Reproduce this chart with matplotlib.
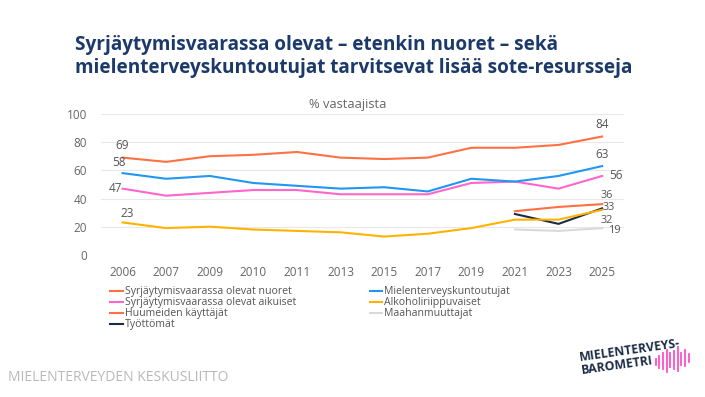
import matplotlib.pyplot as plt
import numpy as np

years = ["2006", "2007", "2009", "2010", "2011", "2013", "2015", "2017", "2019", "2021", "2023", "2025"]

nuoret = [69, 66, 70, 71, 73, 69, 68, 69, 76, 76, 78, 84]
kuntoutujat = [58, 54, 56, 51, 49, 47, 48, 45, 54, 52, 56, 63]
aikuiset = [47, 42, 44, 46, 46, 43, 43, 43, 51, 52, 47, 56]
alkoholi = [23, 19, 20, 18, 17, 16, 13, 15, 19, 25, 25, 32]
# series that start in 2021
huumeet = [np.nan] * 9 + [31, 34, 36]
tyottomat = [np.nan] * 9 + [29, 22, 33]
maahanmuuttajat = [np.nan] * 9 + [18, 17, 19]

plt.rcParams['font.family'] = ['Open Sans', 'DejaVu Sans']

fig = plt.figure(figsize=(7.05, 3.97), dpi=100)
ax = fig.add_axes([0.143, 0.358, 0.742, 0.355])
x = np.arange(len(years))

series = [
    ("Syrjäytymisvaarassa olevat nuoret", nuoret, "#ff7043"),
    ("Syrjäytymisvaarassa olevat aikuiset", aikuiset, "#ff66cc"),
    ("Huumeiden käyttäjät", huumeet, "#ff7043"),
    ("Työttömät", tyottomat, "#1c2b44"),
    ("Mielenterveyskuntoutujat", kuntoutujat, "#2196f3"),
    ("Alkoholiriippuvaiset", alkoholi, "#ffb300"),
    ("Maahanmuuttajat", maahanmuuttajat, "#d9d9d9"),
]
for name, vals, col in series:
    ax.plot(x, vals, color=col, lw=1.5, label=name)

lab = dict(fontsize=8.5, color="#555555", textcoords="offset points")
small = dict(fontsize=7.8, color="#555555", textcoords="offset points")
# first values
ax.annotate(f"{nuoret[0]}", (0, nuoret[0]), xytext=(0, 4), ha="center", va="bottom", **lab)
ax.annotate(f"{kuntoutujat[0]}", (0, kuntoutujat[0]), xytext=(-3, 3), ha="center", va="bottom", **lab)
ax.annotate(f"{aikuiset[0]}", (0, aikuiset[0]), xytext=(0, 0), ha="right", va="center", **lab)
ax.annotate(f"{alkoholi[0]}", (0, alkoholi[0]), xytext=(3, 2), ha="center", va="bottom", **lab)
# last values
ax.annotate(f"{nuoret[-1]}", (11, nuoret[-1]), xytext=(0, 4), ha="center", va="bottom", **lab)
ax.annotate(f"{kuntoutujat[-1]}", (11, kuntoutujat[-1]), xytext=(0, 4), ha="center", va="bottom", **lab)
ax.annotate(f"{aikuiset[-1]}", (11, aikuiset[-1]), xytext=(5, 0), ha="left", va="center", **lab)
ax.annotate(f"{huumeet[-1]}", (11, huumeet[-1]), xytext=(-1, 6.5), ha="left", va="center", **small)
ax.annotate(f"{tyottomat[-1]}", (11, tyottomat[-1]), xytext=(0, 0.5), ha="left", va="center", **small)
ax.annotate(f"{alkoholi[-1]}", (11, alkoholi[-1]), xytext=(-1, -7.5), ha="left", va="center", **small)
ax.annotate(f"{maahanmuuttajat[-1]}", (11, maahanmuuttajat[-1]), xytext=(5, -1.5), ha="left", va="center", **small)

ax.set_xlim(-0.5, 11.5)
ax.set_ylim(0, 100)
ax.set_yticks([0, 20, 40, 60, 80, 100])
ax.set_xticks(x, years)
ax.tick_params(length=0, labelsize=8.5, labelcolor="#666666")
ax.tick_params(axis="y", pad=10)
ax.tick_params(axis="x", pad=8)
ax.grid(axis="y", color="#e8e8e8", lw=0.8)
ax.set_axisbelow(True)
for s in ax.spines.values():
    s.set_visible(False)
ax.text(0.472, 1.07, "% vastaajista", transform=ax.transAxes, fontsize=9.3, color="#666666",
        ha="center", va="center")

leg = ax.legend(loc="upper left", bbox_to_anchor=(0.008, -0.185), ncol=2, frameon=False,
                fontsize=7.6, handlelength=1.2, handletextpad=0.15, labelspacing=0.0,
                columnspacing=7.0, borderpad=0)
for t in leg.get_texts():
    t.set_color("#555555")

fig.text(0.106, 0.858, "Syrjäytymisvaarassa olevat – etenkin nuoret – sekä\nmielenterveyskuntoutujat tarvitsevat lisää sote-resursseja",
         fontsize=13.7, fontweight="bold", color="#1b3a6b", va="center", ha="left", linespacing=1.2)

fig.text(0.011, 0.05, "MIELENTERVEYDEN KESKUSLIITTO", fontsize=10, color="#b8b8b8", va="center", ha="left")

# logo
fig.text(0.826, 0.05, "MIELENTERVEYS-\nBAROMETRI", fontsize=8.8, fontweight="bold", color="#1c2b44",
         rotation=8, ha="left", va="bottom", linespacing=1.05, rotation_mode="anchor")
bar_h = [0.015, 0.03, 0.04, 0.055, 0.035, 0.045, 0.06, 0.03, 0.04, 0.02]
for i, h in enumerate(bar_h):
    bx = 0.93 + i * 0.0052
    by = 0.088 + i * 0.0012
    fig.add_artist(plt.Line2D([bx, bx], [by - h / 2, by + h / 2], color="#ff4fc8", lw=1.3))

plt.savefig("out.png", dpi=100)
